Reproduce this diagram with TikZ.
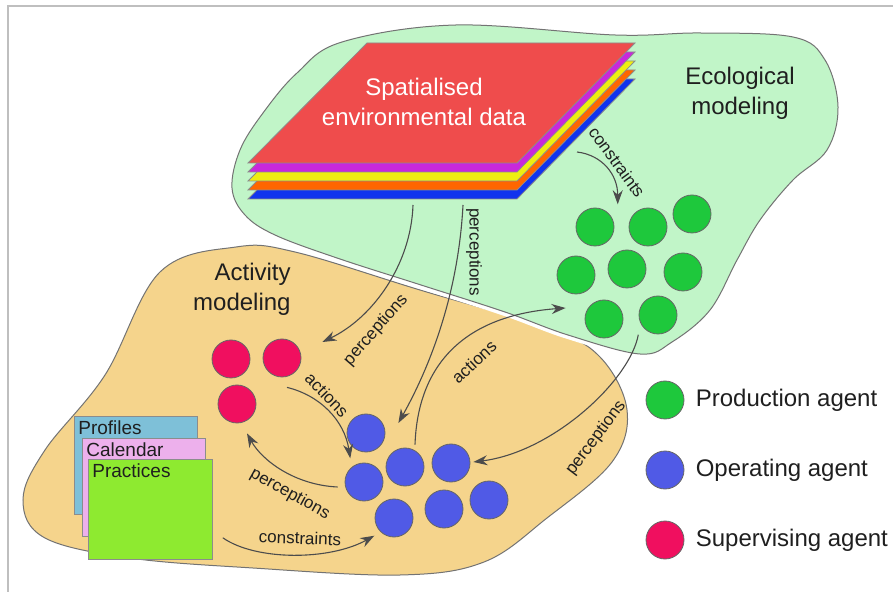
\documentclass[tikz,border=0pt]{standalone}
\usepackage{fontspec}
\setmainfont{Liberation Sans}
\usepackage{tikz}
\usetikzlibrary{arrows.meta}
\usetikzlibrary{positioning}

\definecolor{ecogreen}{HTML}{C1F5C8}
\definecolor{actorange}{HTML}{F5D48C}
\definecolor{prodgreen}{HTML}{1EC83C}
\definecolor{operblue}{HTML}{505AE6}
\definecolor{supred}{HTML}{F00F5F}
\definecolor{layred}{HTML}{EF4C4C}
\definecolor{laymagenta}{HTML}{C828DC}
\definecolor{layyellow}{HTML}{EEEE11}
\definecolor{layorange}{HTML}{FF6600}
\definecolor{layblue}{HTML}{1133EE}
\definecolor{profblue}{HTML}{7EC0D8}
\definecolor{calpink}{HTML}{EDB0EC}
\definecolor{pracgreen}{HTML}{8EEA30}

\begin{document}
\begin{tikzpicture}[x=0.5pt, y=-0.5pt,
  agent/.style={circle, draw=black!60, thin, minimum size=19pt, inner sep=0pt},
  layer/.style={draw=black!45, line width=0.4pt},
  card/.style={rectangle, draw=black!45, line width=0.4pt, minimum width=61.5pt, minimum height=49pt, anchor=north west},
  title/.style={font=\fontsize{12}{15}\selectfont, text=black!88, inner sep=0pt},
  cardtext/.style={font=\fontsize{9.5}{11}\selectfont, text=black!88, inner sep=2pt},
  flowtext/.style={font=\fontsize{8.5}{10}\selectfont, text=black!88, inner sep=0pt},
  flow/.style={draw=black!70, line width=0.55pt, ->}]

\useasboundingbox (0,0) rectangle (893,592);
\draw [black!25, line width=0.8pt] (8,592) -- (8,6) -- (893,6);

\draw [draw=black!55, line width=0.5pt, fill=actorange] plot [smooth cycle, tension=0.6] coordinates {(160,272) (236,247) (295,252) (420,290) (547,328) (600,357) (627,410) (612,462) (547,518) (484,562) (400,575) (253,568) (130,558) (45,538) (23,500) (45,450) (105,375)};
\draw [draw=black!55, line width=0.5pt, fill=ecogreen, preaction={draw=white, line width=4pt}] plot [smooth cycle, tension=0.6] coordinates {(342,42) (456,25) (615,35) (700,33) (793,37) (825,60) (838,107) (827,150) (793,180) (760,220) (737,260) (710,310) (672,342) (640,354) (568,335) (505,312) (421,285) (337,258) (275,235) (245,215) (232,188) (240,150) (263,113) (297,73)};

\draw [layer, fill=layblue, shift={(0,36)}] (367,43) -- (635,43) -- (517,163) -- (248,163) -- cycle;
\draw [layer, fill=layorange, shift={(0,27)}] (367,43) -- (635,43) -- (517,163) -- (248,163) -- cycle;
\draw [layer, fill=layyellow, shift={(0,18)}] (367,43) -- (635,43) -- (517,163) -- (248,163) -- cycle;
\draw [layer, fill=laymagenta, shift={(0,9)}] (367,43) -- (635,43) -- (517,163) -- (248,163) -- cycle;
\draw [layer, fill=layred] (367,43) -- (635,43) -- (517,163) -- (248,163) -- cycle;
\node at (424,102) [title, text=white, align=center] (data) {Spatialised\\environmental data};
\coordinate (dataE) at (577,152);
\coordinate (dataB1) at (413,205);
\coordinate (dataB2) at (463,205);

\node at (740,93) [title, align=center] (eco) {Ecological\\modeling};
\node at (291,289) [title, align=right, anchor=east] (act) {Activity\\modeling};

\node at (595,227) [agent, fill=prodgreen] (p1) {};
\node at (648,227) [agent, fill=prodgreen] (p2) {};
\node at (692,214) [agent, fill=prodgreen] (p3) {};
\node at (576,275) [agent, fill=prodgreen] (p4) {};
\node at (627,269) [agent, fill=prodgreen] (p5) {};
\node at (683,272) [agent, fill=prodgreen] (p6) {};
\node at (604,319) [agent, fill=prodgreen] (p7) {};
\node at (658,315) [agent, fill=prodgreen] (p8) {};

\node at (231,359) [agent, fill=supred] (s1) {};
\node at (282,358) [agent, fill=supred] (s2) {};
\node at (237,404) [agent, fill=supred] (s3) {};

\node at (366,433) [agent, fill=operblue] (o1) {};
\node at (364,482) [agent, fill=operblue] (o2) {};
\node at (405,467) [agent, fill=operblue] (o3) {};
\node at (451,463) [agent, fill=operblue] (o4) {};
\node at (394,518) [agent, fill=operblue] (o5) {};
\node at (444,509) [agent, fill=operblue] (o6) {};
\node at (489,500) [agent, fill=operblue] (o7) {};

\node at (74,416) [card, fill=profblue] (prof) {};
\node [below right, cardtext] at (prof.north west) {Profiles};
\node at (82,438) [card, fill=calpink] (cal) {};
\node [below right, cardtext] at (cal.north west) {Calendar};
\node at (88,459) [card, fill=pracgreen, minimum width=62pt, minimum height=50pt] (prac) {};
\node [below right, cardtext] at (prac.north west) {Practices};

\node at (665,400) [agent, fill=prodgreen] (lp) {};
\node [title, right=5.5pt of lp] {Production agent};
\node at (665,470) [agent, fill=operblue] (lo) {};
\node [title, right=5.5pt of lo] {Operating agent};
\node at (665,540) [agent, fill=supred] (ls) {};
\node [title, right=5.5pt of ls] {Supervising agent};

\begin{scope}[>={Stealth[length=7pt, width=5pt]}]
	\draw [flow] (dataE) .. controls +(25,3) and +(0,-30) .. ([shift={(9,-9)}]p1.north east);
	\draw [flow] (dataB1) .. controls +(-2,60) and +(50,-24) .. ([shift={(21,-16)}]s2.east);
	\draw [flow] (dataB2) .. controls +(-5,95) and +(28,-50) .. ([shift={(13,-10)}]o1.east);
	\draw [flow] ([shift={(10,-3)}]o3.north) .. controls +(3,-85) and +(-96,7) .. ([shift={(-19,-11)}]p7.west);
	\draw [flow] ([shift={(-6,6)}]p8.south west) .. controls +(-8,45) and +(80,-10) .. ([shift={(3,-1)}]o4.east);
	\draw [flow] ([shift={(5,10)}]s2.south) .. controls +(33,8) and +(-6,-38) .. ([shift={(0,-10)}]o2.north west);
	\draw [flow] ([shift={(-7,5)}]o2.west) .. controls +(-43,-2) and +(15,27) .. ([shift={(10,10)}]s3.south);
	\draw [flow] ([shift={(10,-22)}]prac.south east) .. controls +(33,23) and +(-45,25) .. ([shift={(-6,4)}]o5.south west);
\end{scope}

\node at (617,162) [flowtext, rotate=-54] {constraints};
\node at (376,330) [flowtext, rotate=49] {perceptions};
\node at (474,252) [flowtext, rotate=-90] {perceptions};
\node at (474,362) [flowtext, rotate=43] {actions};
\node at (596,438) [flowtext, rotate=53] {perceptions};
\node at (327,395) [flowtext, rotate=-46] {actions};
\node at (290,494) [flowtext, rotate=-29] {perceptions};
\node at (300,538) [flowtext, rotate=-2] {constraints};

\end{tikzpicture}
\end{document}
